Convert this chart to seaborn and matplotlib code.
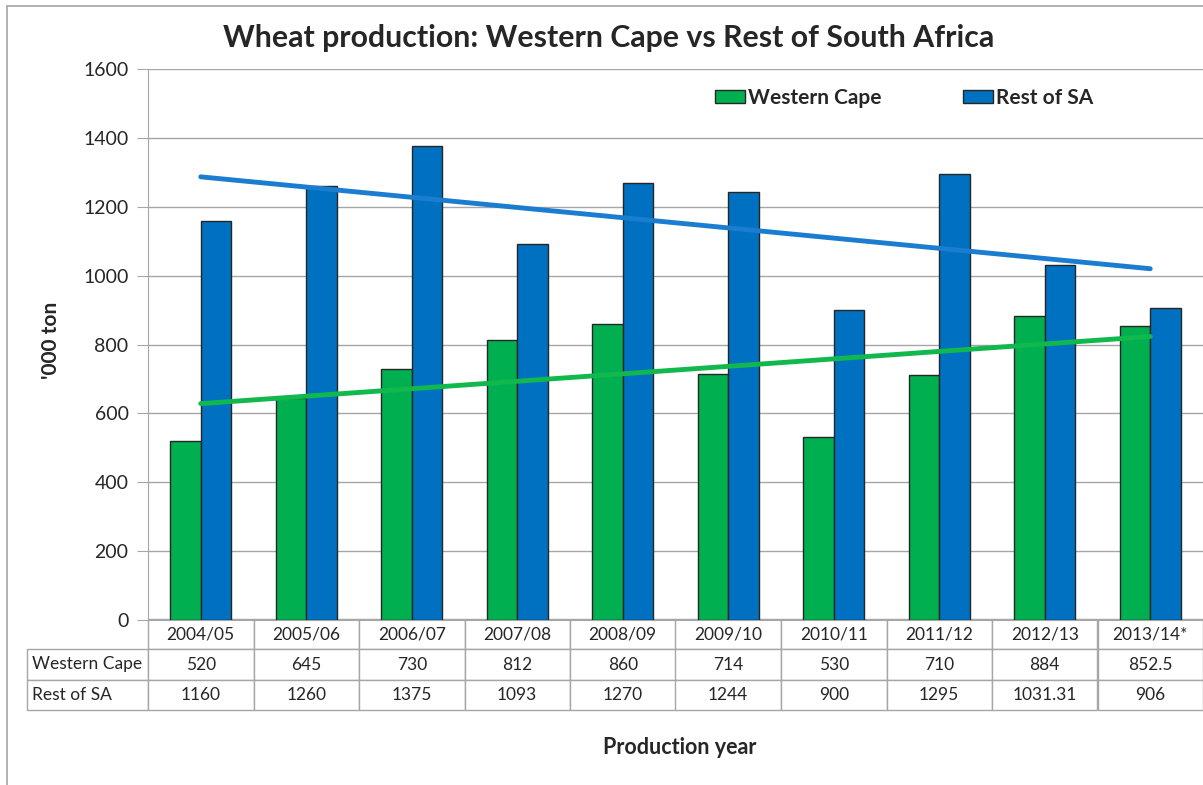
import numpy as np
import pandas as pd
import seaborn as sns
import matplotlib.pyplot as plt
from matplotlib.lines import Line2D

years = ["2004/05", "2005/06", "2006/07", "2007/08", "2008/09",
         "2009/10", "2010/11", "2011/12", "2012/13", "2013/14*"]
western_cape = [520, 645, 730, 812, 860, 714, 530, 710, 884, 852.5]
rest_of_sa = [1160, 1260, 1375, 1093, 1270, 1244, 900, 1295, 1031.31, 906]
wc_labels = ["520", "645", "730", "812", "860", "714", "530", "710", "884", "852.5"]
rsa_labels = ["1160", "1260", "1375", "1093", "1270", "1244", "900", "1295", "1031.31", "906"]

green = "#00B050"
blue = "#0070C0"
grid_grey = "#A6A6A6"

sns.set_style("white")
plt.rcParams["font.family"] = ["Lato", "DejaVu Sans"]

df = pd.DataFrame({
    "year": years * 2,
    "value": western_cape + rest_of_sa,
    "region": ["Western Cape"] * len(years) + ["Rest of SA"] * len(years),
})

W, H = 1203, 785
fig = plt.figure(figsize=(W / 100, H / 100), dpi=100)
ax = fig.add_axes([148 / W, 1 - 620 / H, (1203 - 148) / W, (620 - 69) / H])

sns.barplot(data=df, x="year", y="value", hue="region",
            palette={"Western Cape": green, "Rest of SA": blue}, saturation=1,
            width=0.58, edgecolor="#262626", linewidth=1, ax=ax, zorder=3)

# linear trend lines
xpos = np.arange(len(years))
sns.regplot(x=xpos, y=western_cape, scatter=False, ci=None, truncate=True, ax=ax,
            line_kws=dict(color="#10B84E", lw=3.5, zorder=4, solid_capstyle="round"))
sns.regplot(x=xpos, y=rest_of_sa, scatter=False, ci=None, truncate=True, ax=ax,
            line_kws=dict(color="#1A7DD0", lw=3.5, zorder=4, solid_capstyle="round"))

ax.set_xlim(-0.5, len(years) - 0.5)
ax.set_ylim(0, 1600)
ax.set_yticks(range(0, 1601, 200))
ax.yaxis.grid(True, color=grid_grey, lw=1)
ax.set_axisbelow(True)
for s in ["top", "right"]:
    ax.spines[s].set_visible(False)
ax.spines["left"].set_color(grid_grey)
ax.spines["bottom"].set_color(grid_grey)
ax.tick_params(axis="y", length=8, color=grid_grey, labelsize=14, pad=6, left=True)
ax.tick_params(axis="x", bottom=False, labelbottom=False)
ax.set_xlabel("")
ax.set_ylabel("'000 ton", fontsize=15, fontweight="bold")
ax.yaxis.set_label_coords((61 - 148) / 1055, (620 - 340) / 551)

leg = ax.legend(loc="center", bbox_to_anchor=(904 / W, 1 - 98 / H),
                bbox_transform=fig.transFigure, ncol=2, frameon=False,
                handlelength=1.45, handleheight=0.55, handletextpad=0.15,
                columnspacing=3.9, prop=dict(size=15, weight="bold"))
for p in leg.get_patches():
    p.set_edgecolor("#262626")

# data table below the axes
cells = [[""] + years, ["Western Cape"] + wc_labels, ["Rest of SA"] + rsa_labels]
col_w = [121] + [105.5] * len(years)
tbl = ax.table(cellText=cells, colWidths=[c / 1055 for c in col_w],
               cellLoc="center",
               bbox=[(27 - 148) / 1055, -(710 - 620) / 551, 1176 / 1055, 91 / 551])
tbl.auto_set_font_size(False)
tbl.set_fontsize(12.5)
for (r, c), cell in tbl.get_celld().items():
    cell.set_edgecolor(grid_grey)
    cell.set_linewidth(1)
    if c == 0:
        cell.get_text().set_ha("left")
        cell.PAD = 0.04
    if r == 0 and c == 0:
        cell.visible_edges = ""

fig.text(609 / W, 1 - 38 / H, "Wheat production: Western Cape vs Rest of South Africa",
         ha="center", va="center", fontsize=21.8, fontweight="bold")
fig.text(680 / W, 1 - 747 / H, "Production year", ha="center", va="center",
         fontsize=15.5, fontweight="bold")

# outer chart frame
fig.add_artist(Line2D([7 / W, 7 / W], [0, 1 - 6 / H], transform=fig.transFigure,
                      color=grid_grey, lw=1.2))
fig.add_artist(Line2D([7 / W, 1], [1 - 6 / H, 1 - 6 / H], transform=fig.transFigure,
                      color=grid_grey, lw=1.2))

fig.savefig("out.png", dpi=100)
